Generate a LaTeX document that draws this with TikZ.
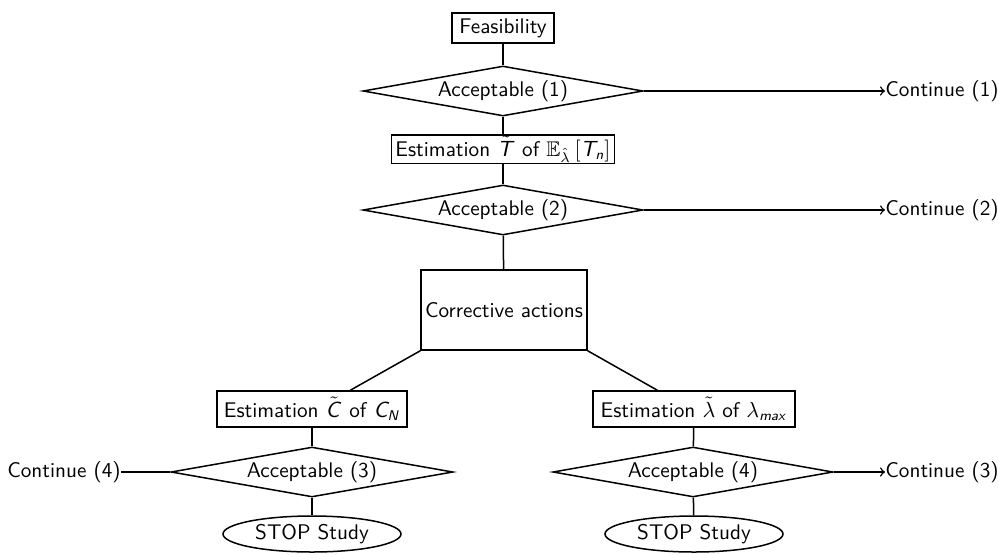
\documentclass[tikz,border=0pt]{standalone}
\usepackage{amsmath,amssymb}
\usepackage{sansmath}
\usetikzlibrary{shapes.geometric,calc}
\DeclareMathAlphabet{\mathsfit}{OT1}{cmss}{m}{sl}
\begin{document}
\begin{tikzpicture}[x=0.5pt,y=-0.5pt,
  every node/.style={font=\sffamily\sansmath\fontsize{10.6}{13}\selectfont},
  box/.style={draw,line width=0.75pt,inner sep=2pt,minimum height=15pt},
  dec/.style={draw,diamond,aspect=4.52,line width=0.75pt,inner sep=0pt,minimum width=140pt},
  stopnode/.style={draw,ellipse,line width=0.75pt,inner sep=0pt,minimum width=89pt,minimum height=18pt},
  conn/.style={line width=0.75pt},
  arr/.style={line width=0.75pt,->},
  lbl/.style={inner sep=0pt}]
\useasboundingbox (0,0) rectangle (998,554);
\node[box,minimum width=51pt] (feas) at (503,28) {Feasibility};
\node[dec] (acc1) at (503,91) {Acceptable (1)};
\node[box,minimum width=111pt,minimum height=14pt,inner ysep=0.5pt] (estT) at (503,149) {Estimation $\tilde{\mathsfit{T}}$ of $\mathbb{E}_{\hat{\lambda}}\,[\mathsfit{T}_{\mathsfit{n}}]$};
\node[dec] (acc2) at (503,210) {Acceptable (2)};
\node[box,minimum width=76pt,minimum height=40pt] (corr) at (504,310) {Corrective actions};
\node[box,minimum width=95pt,minimum height=18pt] (estC) at (312,409) {Estimation $\tilde{\mathsfit{C}}$ of $\mathsfit{C}_{\mathsfit{N}}$};
\node[box,minimum width=101pt,minimum height=18pt] (estL) at (694,409) {Estimation $\tilde{\lambda}$ of $\lambda_{\mathsfit{max}}$};
\node[dec,minimum width=141pt] (acc3) at (312,472) {Acceptable (3)};
\node[dec] (acc4) at (693,472) {Acceptable (4)};
\node[stopnode] (stop1) at (312,534) {STOP Study};
\node[stopnode] (stop2) at (694,534) {STOP Study};
\node[lbl,anchor=west] (c1) at (885,91) {Continue (1)};
\node[lbl,anchor=west] (c2) at (885,210) {Continue (2)};
\node[lbl,anchor=west] (c3) at (885,472) {Continue (3)};
\node[lbl,anchor=east] (c4) at (121,472) {Continue (4)};
\draw[conn] (feas) -- (acc1);
\draw[conn] (acc1) -- (estT);
\draw[conn] (estT) -- (acc2);
\draw[conn] (acc2) -- (corr);
\draw[conn] (corr.south west) -- ($(estC.north west)!0.7!(estC.north east)$);
\draw[conn] (corr.south east) -- ($(estL.north west)!0.32!(estL.north east)$);
\draw[conn] (estC) -- (acc3);
\draw[conn] (estL) -- (acc4);
\draw[conn] (acc3) -- (stop1);
\draw[conn] (acc4) -- (stop2);
\draw[arr] (acc1.east) -- (c1.west);
\draw[arr] (acc2.east) -- (c2.west);
\draw[arr] (acc4.east) -- (c3.west);
\draw[conn] (c4.east) -- (acc3.west);
\end{tikzpicture}
\end{document}
